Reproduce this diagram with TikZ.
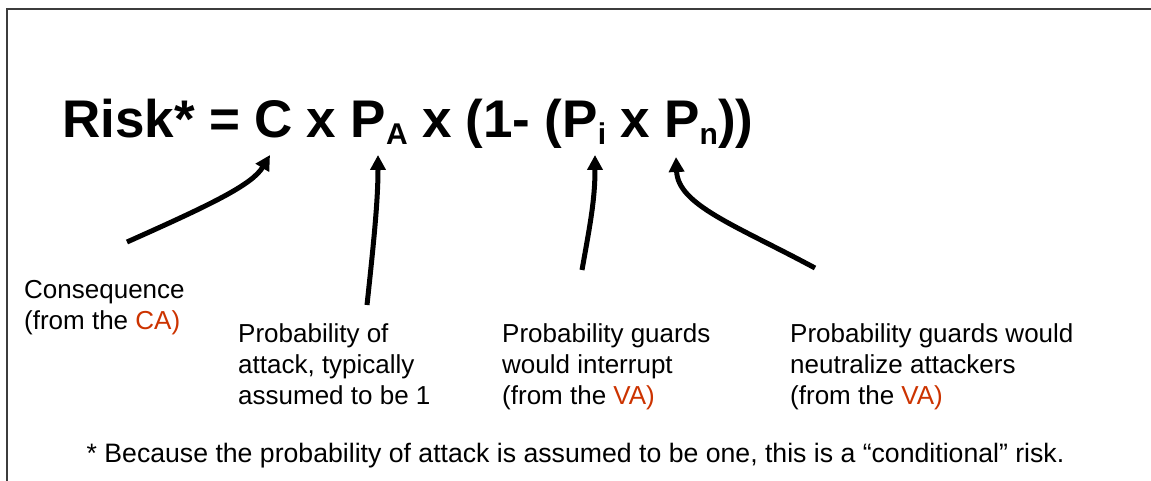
\documentclass[tikz,border=0pt]{standalone}
\usepackage{fontspec}
\setmainfont{Liberation Sans}
\usetikzlibrary{arrows.meta}
\definecolor{riskred}{RGB}{204,51,0}
\definecolor{framegray}{RGB}{60,60,60}
\tikzset{
  lbl/.style={anchor=base west, inner sep=0pt, font=\fontsize{26}{31}\selectfont},
  ptr/.style={line width=5pt, -{Triangle[length=15pt,width=15pt]}},
  frameline/.style={line width=2pt, draw=framegray}
}
\newcommand{\lowsub}[1]{\raisebox{-7pt}{\fontsize{30}{30}\selectfont #1}}
\newcommand{\ml}[1]{\begin{tabular}[t]{@{}l@{}}#1\end{tabular}}
\begin{document}
\begin{tikzpicture}[x=1pt,y=-1pt]
\useasboundingbox (0,0) rectangle (1151,481);
\draw[frameline] (7,482) -- (7,9) -- (1152,9);
\node[anchor=base west, inner sep=0pt, font=\bfseries\fontsize{53}{60}\selectfont] (formula) at (62,138)
  {\spaceskip=0.27em Risk* = C x P\lowsub{A} x (1- (P\lowsub{i} x P\lowsub{n}))};
\node[lbl] (cons) at (24,298) {\ml{Consequence\\(from the \textcolor{riskred}{CA)}}};
\node[lbl] (pa) at (238,342) {\ml{Probability of\\attack, typically\\assumed to be 1}};
\node[lbl] (pi) at (502,342) {\ml{Probability guards\\would interrupt\\(from the \textcolor{riskred}{VA)}}};
\node[lbl] (pn) at (790,342) {\ml{Probability guards would\\neutralize attackers\\(from the \textcolor{riskred}{VA)}}};
\node[anchor=base, inner sep=0pt, font=\fontsize{26.65}{31}\selectfont] (note) at (575.5,462)
  {* Because the probability of attack is assumed to be one, this is a “conditional” risk.};
\coordinate (tC) at (270,155);
\coordinate (tA) at (378,155);
\coordinate (ti) at (595,155);
\coordinate (tn) at (676,157);
\coordinate (sC) at (127,242);
\coordinate (sA) at (367,305);
\coordinate (si) at (582,270);
\coordinate (sn) at (815,268);
\draw[ptr] (sC) .. controls (210,205) and (252,185) .. (tC);
\draw[ptr] (sA) .. controls (374,240) and (378,200) .. (tA);
\draw[ptr] (si) .. controls (590,225) and (595,200) .. (ti);
\draw[ptr] (sn) .. controls (735,225) and (678,205) .. (tn);
\end{tikzpicture}
\end{document}
